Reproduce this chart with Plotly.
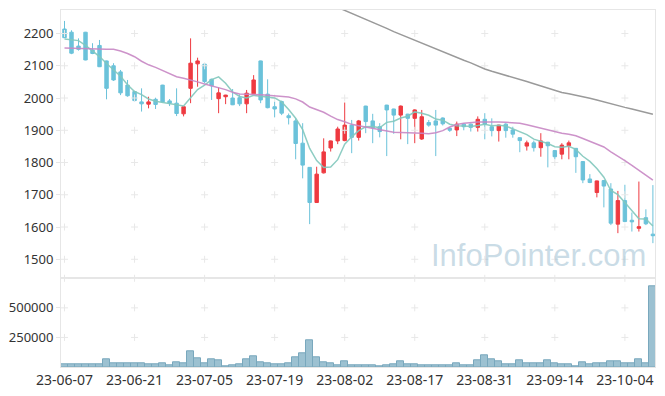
import plotly.graph_objects as go

dates = [
    "23-06-07", "23-06-08", "23-06-09", "23-06-12", "23-06-13", "23-06-14", "23-06-15", "23-06-16",
    "23-06-19", "23-06-20", "23-06-21", "23-06-22", "23-06-23", "23-06-26", "23-06-27", "23-06-28",
    "23-06-29", "23-06-30",
    "23-07-03", "23-07-04", "23-07-05", "23-07-06", "23-07-07", "23-07-10", "23-07-11", "23-07-12",
    "23-07-13", "23-07-14", "23-07-17", "23-07-18", "23-07-19", "23-07-20", "23-07-21", "23-07-24",
    "23-07-25", "23-07-26", "23-07-27", "23-07-28", "23-07-31",
    "23-08-01", "23-08-02", "23-08-03", "23-08-04", "23-08-07", "23-08-08", "23-08-09", "23-08-10",
    "23-08-11", "23-08-14", "23-08-16", "23-08-17", "23-08-18", "23-08-21", "23-08-22", "23-08-23",
    "23-08-24", "23-08-25", "23-08-28", "23-08-29", "23-08-30", "23-08-31",
    "23-09-01", "23-09-04", "23-09-05", "23-09-06", "23-09-07", "23-09-08", "23-09-11", "23-09-12",
    "23-09-13", "23-09-14", "23-09-15", "23-09-18", "23-09-19", "23-09-20", "23-09-21", "23-09-22",
    "23-09-25", "23-09-26", "23-09-27",
    "23-10-04", "23-10-05", "23-10-06", "23-10-10", "23-10-11",
]

opens = [2214, 2204, 2161, 2204, 2149, 2163, 2115, 2100, 2081, 2040,
         2020, 1988, 1981, 1996, 2040, 1991, 1984, 1951, 2030, 2106,
         2105, 2058, 1998, 2004, 2000, 2001, 1982, 2013, 2115, 2012,
         1973, 1989, 1945, 1929, 1860, 1785, 1676, 1768, 1845, 1867,
         1868, 1916, 1878, 1975, 1929, 1911, 1978, 1966, 1947, 1950,
         1937, 1873, 1924, 1929, 1938, 1906, 1901, 1919, 1919, 1909,
         1934, 1911, 1899, 1919, 1901, 1877, 1851, 1861, 1846, 1863,
         1837, 1826, 1852, 1844, 1803, 1749, 1707, 1744, 1718, 1609,
         1682, 1621, 1596, 1629, 1578]
highs = [2239, 2210, 2185, 2205, 2170, 2180, 2116, 2108, 2087, 2056,
         2022, 2030, 2004, 2001, 2041, 1997, 2030, 1974, 2185, 2125,
         2106, 2060, 2033, 2010, 2028, 2011, 2025, 2071, 2116, 2058,
         1989, 1992, 1952, 1937, 1922, 1786, 1787, 1875, 1868, 1911,
         1986, 1932, 1932, 1976, 1951, 1922, 1979, 1967, 1977, 1951,
         1965, 1963, 1932, 1963, 1940, 1910, 1927, 1922, 1921, 1943,
         1953, 1937, 1917, 1922, 1911, 1878, 1868, 1868, 1891, 1864,
         1839, 1860, 1868, 1845, 1804, 1764, 1744, 1746, 1736, 1712,
         1731, 1645, 1741, 1655, 1730]
lows = [2187, 2136, 2147, 2117, 2136, 2096, 1996, 2053, 2009, 2004,
        1990, 1958, 1968, 1966, 1986, 1975, 1944, 1943, 1984, 2035,
        2046, 1994, 1953, 1981, 1978, 1975, 1953, 2012, 1984, 1968,
        1940, 1947, 1918, 1810, 1751, 1609, 1675, 1766, 1834, 1857,
        1866, 1829, 1868, 1891, 1860, 1878, 1820, 1889, 1872, 1857,
        1860, 1870, 1911, 1820, 1915, 1895, 1882, 1900, 1896, 1896,
        1872, 1881, 1865, 1877, 1877, 1832, 1837, 1834, 1818, 1785,
        1810, 1810, 1810, 1768, 1736, 1736, 1692, 1661, 1606, 1581,
        1615, 1586, 1586, 1606, 1550]
closes = [2187, 2139, 2151, 2118, 2138, 2097, 2030, 2056, 2016, 2007,
          1992, 1982, 1988, 1980, 1988, 1984, 1952, 1973, 2108, 2115,
          2051, 2038, 2016, 2009, 1979, 1982, 2015, 2056, 1994, 1970,
          1966, 1953, 1939, 1859, 1792, 1676, 1764, 1833, 1867, 1904,
          1916, 1878, 1929, 1927, 1908, 1896, 1963, 1947, 1975, 1937,
          1963, 1942, 1916, 1916, 1920, 1900, 1919, 1911, 1909, 1934,
          1919, 1899, 1916, 1899, 1888, 1868, 1861, 1846, 1867, 1852,
          1818, 1854, 1861, 1818, 1746, 1738, 1743, 1727, 1612, 1682,
          1617, 1616, 1601, 1610, 1573]

volumes = [19000, 19000, 19000, 19000, 19000, 19000, 62000, 28000, 28000, 28000,
           28000, 28000, 19000, 19000, 28000, 11000, 36000, 28000, 137000, 70000,
           28000, 62000, 53000, 2000, 11000, 19000, 62000, 87000, 36000, 28000,
           19000, 19000, 28000, 78000, 120000, 230000, 78000, 36000, 28000, 11000,
           45000, 11000, 11000, 11000, 11000, 2000, 11000, 19000, 45000, 19000,
           19000, 11000, 11000, 11000, 11000, 11000, 28000, 11000, 11000, 53000,
           95000, 62000, 45000, 19000, 19000, 53000, 28000, 28000, 28000, 53000,
           28000, 19000, 19000, 2000, 36000, 19000, 28000, 28000, 45000, 45000,
           28000, 28000, 62000, 28000, 685000]

ma5 = [2183, 2180, 2178, 2163, 2146.6, 2128.6, 2106.8, 2087.8, 2067.4, 2041.2,
       2020.2, 2010.6, 1997.0, 1989.8, 1986.0, 1984.4, 1978.4, 1975.4, 2001.0, 2026.4,
       2039.8, 2057.0, 2065.6, 2045.8, 2018.6, 2004.8, 2000.2, 2008.2, 2005.2, 2003.4,
       2000.2, 1987.8, 1964.4, 1937.4, 1901.8, 1843.8, 1806.0, 1784.8, 1786.4, 1808.8,
       1856.8, 1879.6, 1898.8, 1910.8, 1911.6, 1907.6, 1924.6, 1928.2, 1937.8, 1943.6,
       1957.0, 1952.8, 1946.6, 1934.8, 1931.4, 1918.8, 1914.2, 1913.2, 1911.8, 1914.6,
       1918.4, 1914.4, 1915.4, 1913.4, 1904.2, 1894.0, 1886.4, 1872.4, 1866.0, 1858.8,
       1848.8, 1847.4, 1850.4, 1840.6, 1819.4, 1803.4, 1781.2, 1754.4, 1713.2, 1700.4,
       1676.2, 1650.8, 1625.6, 1625.2, 1603.4]
ma20 = [2155, 2154, 2153, 2152, 2151, 2151, 2151, 2151, 2146, 2138,
        2128, 2114, 2103, 2095, 2085, 2074, 2066, 2061, 2056, 2050.0,
        2043.3, 2038.2, 2031.5, 2026.0, 2018.1, 2012.3, 2011.6, 2011.6, 2010.5, 2008.6,
        2007.3, 2005.9, 2003.4, 1997.4, 1987.6, 1972.2, 1962.8, 1955.8, 1943.7, 1933.2,
        1926.4, 1918.4, 1914.1, 1910.0, 1906.4, 1902.1, 1899.5, 1894.1, 1893.1, 1891.5,
        1891.3, 1890.8, 1889.6, 1892.5, 1898.9, 1910.1, 1917.8, 1921.7, 1923.8, 1925.3,
        1925.5, 1926.5, 1925.9, 1924.5, 1923.5, 1922.1, 1917.0, 1911.9, 1906.5, 1902.3,
        1895.0, 1890.6, 1887.9, 1883.0, 1874.3, 1866.2, 1857.4, 1848.2, 1833.3, 1820.7,
        1805.6, 1791.5, 1775.7, 1761.3, 1745.5]
ma_long = [None] * 39 + [
    2281, 2272, 2263, 2253, 2244, 2235, 2226, 2216, 2206, 2197,
    2187, 2178, 2170, 2161, 2153, 2144, 2135, 2126, 2117, 2109,
    2099, 2090, 2083, 2077, 2071, 2064, 2058, 2051, 2044, 2037,
    2029, 2022, 2017, 2013, 2009, 2004, 1999, 1994, 1988, 1982,
    1975, 1971, 1966, 1960, 1955, 1950]

price_ticks = [1500, 1600, 1700, 1800, 1900, 2000, 2100, 2200]
vol_ticks = [250000, 500000]
vol_tick_text = ["250000", "500000"]
x_tick_idx = [0, 10, 20, 30, 40, 50, 60, 70, 80]
x_ticks = [dates[i] for i in x_tick_idx]

RED = "#ee3a40"
BLUE = "#6bc2da"
LINEC = "#e6e6e6"
CROSS = "#e8e8e8"
FONT = "Noto Sans"

fig = go.Figure()

# grid crosses (drawn first, underneath)
cx, cy = [], []
for xi in x_ticks:
    for p in price_ticks:
        cx.append(xi)
        cy.append(p)
fig.add_trace(go.Scatter(x=cx, y=cy, mode="markers",
                         marker=dict(symbol="cross-thin", size=5, line=dict(color=CROSS, width=1)),
                         xaxis="x", yaxis="y", hoverinfo="skip", showlegend=False))
vx, vy = [], []
for xi in x_ticks:
    for v in vol_ticks + [750000]:
        vx.append(xi)
        vy.append(v)
fig.add_trace(go.Scatter(x=vx, y=vy, mode="markers", cliponaxis=False,
                         marker=dict(symbol="cross-thin", size=5, line=dict(color=CROSS, width=1)),
                         xaxis="x2", yaxis="y2", hoverinfo="skip", showlegend=False))

fig.add_trace(go.Candlestick(
    x=dates, open=opens, high=highs, low=lows, close=closes,
    increasing=dict(line=dict(color=RED, width=1), fillcolor=RED),
    decreasing=dict(line=dict(color=BLUE, width=1), fillcolor=BLUE),
    xaxis="x", yaxis="y", hoverinfo="skip", showlegend=False,
))
fig.add_trace(go.Scatter(x=dates, y=ma5, mode="lines", line=dict(color="rgba(130,200,188,0.9)", width=1.5),
                         xaxis="x", yaxis="y", hoverinfo="skip", showlegend=False))
fig.add_trace(go.Scatter(x=dates, y=ma20, mode="lines", line=dict(color="rgba(200,135,196,0.9)", width=1.5),
                         xaxis="x", yaxis="y", hoverinfo="skip", showlegend=False))
fig.add_trace(go.Scatter(x=dates, y=ma_long, mode="lines", line=dict(color="#9a9a9a", width=1.5),
                         xaxis="x", yaxis="y", hoverinfo="skip", showlegend=False,
                         connectgaps=False))

fig.add_trace(go.Bar(x=dates, y=volumes, xaxis="x2", yaxis="y2",
                     marker=dict(color="#9cc1d1", line=dict(color="#79a8bd", width=1)),
                     hoverinfo="skip", showlegend=False))

split = 0.2485
xr = [-0.5, 84.3]
fig.update_layout(
    width=665, height=396,
    margin=dict(l=61, r=10, t=10, b=29),
    paper_bgcolor="white", plot_bgcolor="white",
    bargap=0,
    font=dict(family=FONT, color="#333333"),
    xaxis=dict(domain=[0, 1], anchor="y", type="category", categoryorder="array",
               categoryarray=dates, range=xr, showticklabels=False, automargin=False,
               rangeslider=dict(visible=False), showgrid=False, zeroline=False,
               showline=True, mirror=True, linecolor=LINEC, ticks=""),
    yaxis=dict(domain=[split, 1], anchor="x", range=[1441.1, 2272.9], automargin=False,
               tickvals=price_ticks, ticktext=[str(t) for t in price_ticks],
               showgrid=False, zeroline=False, showline=True, mirror=True, linecolor=LINEC,
               ticks="outside", ticklen=4, tickcolor=LINEC,
               tickfont=dict(family=FONT, size=13, color="#333333")),
    xaxis2=dict(domain=[0, 1], anchor="y2", type="category", categoryorder="array",
                categoryarray=dates, range=xr, matches="x", automargin=False,
                tickvals=x_ticks, ticktext=x_ticks,
                showgrid=False, zeroline=False, showline=True, mirror=True, linecolor=LINEC,
                ticks="",
                tickfont=dict(family=FONT, size=14, color="#333333")),
    yaxis2=dict(domain=[0, split], anchor="x2", range=[0, 750000], automargin=False,
                tickvals=vol_ticks, ticktext=vol_tick_text,
                showgrid=False, zeroline=False, showline=True, mirror=True, linecolor=LINEC,
                ticks="outside", ticklen=4, tickcolor=LINEC,
                tickfont=dict(family=FONT, size=13, color="#333333")),
    annotations=[dict(text="InfoPointer.com", xref="paper", yref="paper",
                      x=0.804, y=0.313, xanchor="center", yanchor="middle",
                      showarrow=False,
                      font=dict(family="Liberation Sans", size=31, color="rgba(150,186,206,0.5)"))],
)

fig.write_html("out.html")
